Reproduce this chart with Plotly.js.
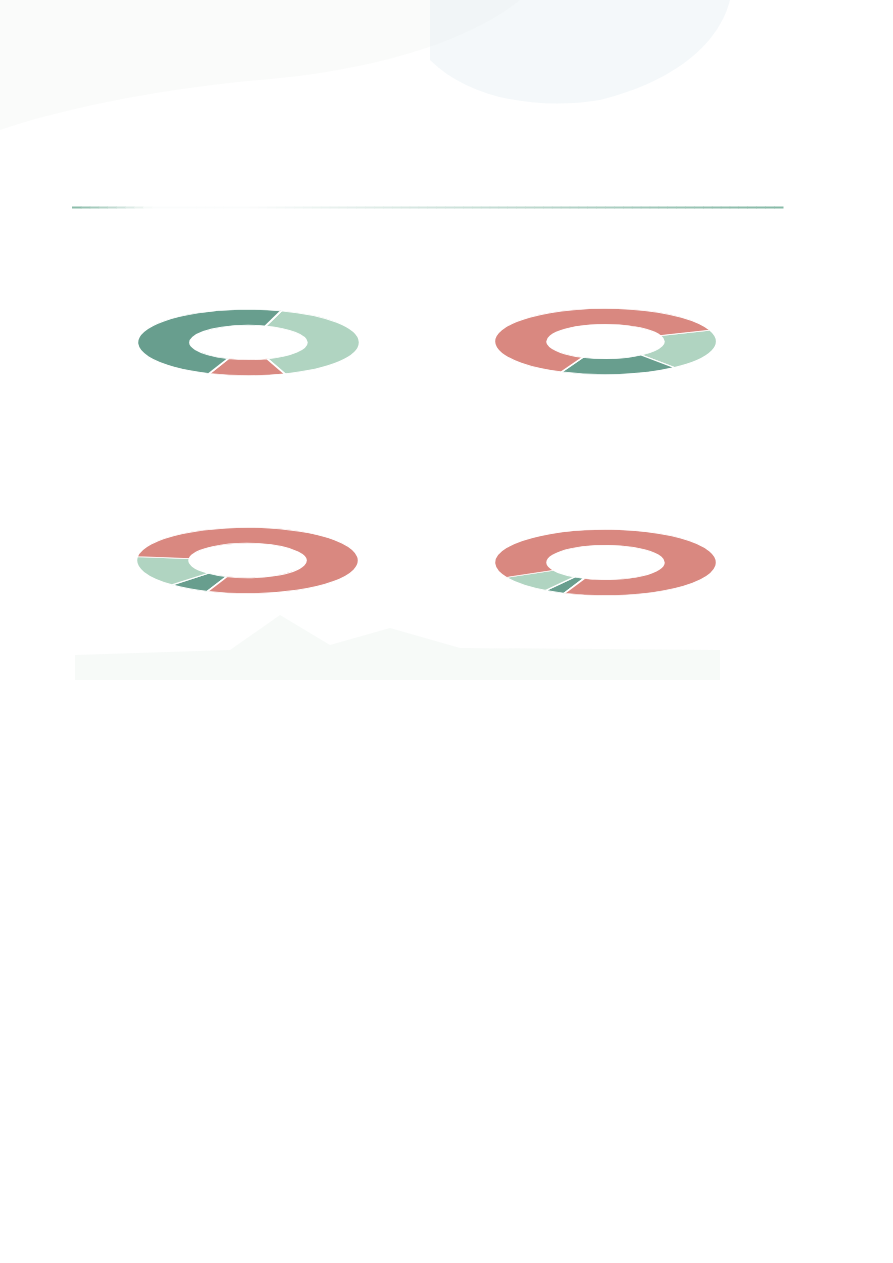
<!DOCTYPE html>
<html>
<head>
<meta charset="utf-8">
<script src="https://cdn.plot.ly/plotly-3.0.1.min.js"></script>
<style>
  html, body { margin: 0; padding: 0; background: #ffffff; }
  #page { position: absolute; left: 0; top: 0; width: 893px; height: 1263px; }
  .donut { position: absolute; width: 223px; height: 223px; transform: scaleY(0.297); transform-origin: 50% 50%; }
</style>
</head>
<body>
<div id="page"></div>
<div id="d1" class="donut" style="left:137px; top:230.5px;"></div>
<div id="d2" class="donut" style="left:493.5px; top:229.5px;"></div>
<div id="d3" class="donut" style="left:136px; top:449px;"></div>
<div id="d4" class="donut" style="left:494px; top:450.5px;"></div>
<script>
// ---- data ----
var categoriesChart1 = ['Light', 'Red', 'Dark'];
var valuesChart1 = [40, 11, 49];
var categoriesChart2 = ['Light', 'Dark', 'Red'];
var valuesChart2 = [20, 17, 63];
var categoriesChart3 = ['Dark', 'Light', 'Red'];
var valuesChart3 = [6, 15, 79];
var categoriesChart4 = ['Dark', 'Light', 'Red'];
var valuesChart4 = [3, 8.5, 88.5];

var sliceColors = { Light: '#b0d4c1', Red: '#d98880', Dark: '#689e8e' };

// ---- page decoration (background) ----
var shapes = [];
// faint top halftone wash
shapes.push({type:'path', path:'M0,0 L520,0 C470,40 380,70 260,80 C150,90 60,110 0,130 Z',
  fillcolor:'#eef1f0', opacity:0.3, line:{width:0}, layer:'below'});
shapes.push({type:'path', path:'M430,0 L730,0 C720,40 680,80 600,100 C540,110 470,100 430,60 Z',
  fillcolor:'#e4edf2', opacity:0.4, line:{width:0}, layer:'below'});
// faint bottom halftone strip
shapes.push({type:'path', path:'M75,680 L75,655 L230,650 L280,615 L330,645 L390,628 L460,648 L720,650 L720,680 Z',
  fillcolor:'#f2f6f4', opacity:0.6, line:{width:0}, layer:'below'});
// gradient rule line under header
function mix(a, b, t) {
  var pa = [parseInt(a.substr(1,2),16), parseInt(a.substr(3,2),16), parseInt(a.substr(5,2),16)];
  var pb = [parseInt(b.substr(1,2),16), parseInt(b.substr(3,2),16), parseInt(b.substr(5,2),16)];
  return 'rgb(' + pa.map(function(v,i){ return Math.round(v + (pb[i]-v)*t); }).join(',') + ')';
}
var x0 = 72, x1 = 783, nSeg = 80;
for (var i = 0; i < nSeg; i++) {
  var xa = x0 + (x1 - x0) * i / nSeg, xb = x0 + (x1 - x0) * (i + 1) / nSeg;
  var xm = (xa + xb) / 2, t;
  if (xm < 150) t = (xm - x0) / (150 - x0);          // green -> white
  else if (xm < 250) t = 1;
  else t = 1 - (xm - 250) / (x1 - 250);              // white -> green
  shapes.push({type:'line', x0:xa, x1:xb + 0.5, y0:207.5, y1:207.5,
    line:{color: mix('#86b9a6', '#fbfcfc', Math.max(0, Math.min(1, t))), width:2}, layer:'below'});
}

Plotly.newPlot('page', [], {
  width: 893, height: 1263,
  margin: {l:0, r:0, t:0, b:0},
  paper_bgcolor: '#ffffff', plot_bgcolor: 'rgba(0,0,0,0)',
  xaxis: {range:[0, 893], visible:false, fixedrange:true},
  yaxis: {range:[1263, 0], visible:false, fixedrange:true},
  shapes: shapes,
  showlegend: false
}, {staticPlot: true});

// ---- donuts ----
function donut(id, cats, vals, rot) {
  Plotly.newPlot(id, [{
    type: 'pie',
    labels: cats,
    values: vals,
    hole: 0.52,
    sort: false,
    direction: 'clockwise',
    rotation: rot,
    textinfo: 'none',
    hoverinfo: 'none',
    marker: { colors: cats.map(function(c){ return sliceColors[c]; }), line: {color:'#ffffff', width:2.5} }
  }], {
    width: 223, height: 223,
    margin: {l:0, r:0, t:0, b:0},
    paper_bgcolor: 'rgba(0,0,0,0)',
    showlegend: false
  }, {staticPlot: true});
}
donut('d1', categoriesChart1, valuesChart1, 17);
donut('d2', categoriesChart2, valuesChart2, 70);
donut('d3', categoriesChart3, valuesChart3, 201);
donut('d4', categoriesChart4, valuesChart4, 201.7);
</script>
</body>
</html>
